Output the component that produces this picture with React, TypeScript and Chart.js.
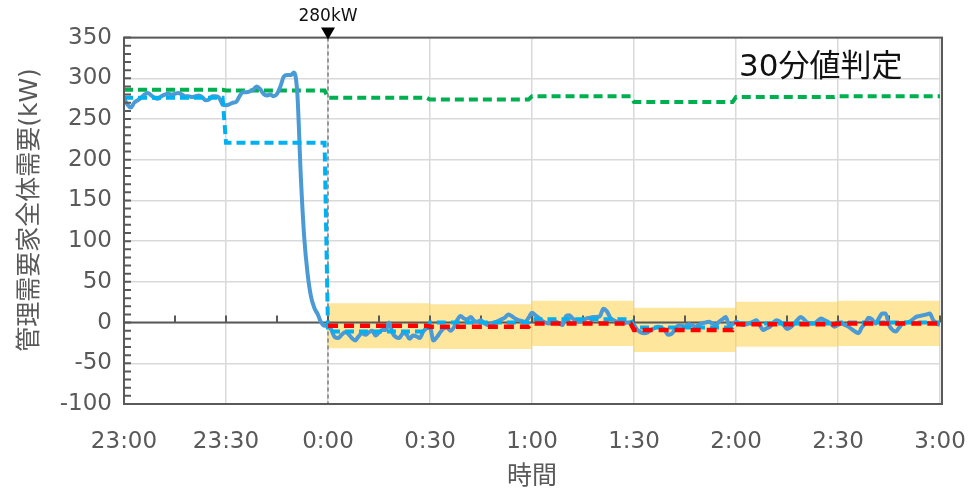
import React, { useEffect, useRef } from 'react';
import { Chart, registerables } from 'chart.js';

Chart.register(...registerables);

// Axis labels
const timeLabels = ['23:00', '23:30', '0:00', '0:30', '1:00', '1:30', '2:00', '2:30', '3:00'];
const xTitle = '時間';
const yTitle = '管理需要家全体需要(kW)';
const panelLabel = '30分値判定';
const markerLabel = '280kW';
const markerMinute = 60; // 0:00, minutes after 23:00
const slotMinutes = 30;
const totalMinutes = 240;

// 1-minute total demand of managed customers, 23:00 → 3:00 (kW)
const demand = [
  275, 268, 264, 270, 273, 276, 280, 282, 279, 276,
  275, 278, 280, 281, 280, 281, 282, 280, 278, 278,
  277, 278, 279, 277, 273, 274, 278, 278, 276, 268,
  267, 268, 270, 271, 278, 283, 283, 284, 286, 290,
  287, 281, 279, 280, 278, 281, 290, 302, 304, 304,
  307, 280, 180, 105, 60, 32, 18, 10, 0, -4,
  -2, -9, -18, -19, -15, -12, -14, -19, -22, -17,
  -13, -15, -12, -10, -16, -12, -9, -9, 0, -13,
  -18, -19, -13, -14, -20, -16, -17, -19, -11, -7,
  -6, -22, -18, -12, -7, -6, -10, -6, 3, 8,
  5, 4, 7, 2, 1, 3, -1, -3, -1, 0,
  2, 4, 6, 10, 8, 5, 3, 2, 1, 6,
  12, 9, 6, 2, 0, -1, 0, 1, -1, -3,
  8, 9, 5, 3, 1, 3, 5, 6, 7, 7,
  8, 17, 14, 6, 3, 1, 0, -1, 0, 0,
  -3, -9, -12, -13, -12, -9, -7, -5, -6, -9,
  -15, -14, -9, -4, -4, -5, -2, -3, -5, -3,
  -1, 0, 1, -1, -3, 1, 4, 7, -3, -2,
  1, -1, -3, -2, -1, 1, 3, -3, -9, -7,
  -5, 0, 3, 1, -3, -8, -6, -2, 3, 7,
  4, 0, -1, -1, 2, 5, 3, 1, -2, -5,
  -3, -1, -3, -5, -8, -11, -13, -6, -1, 6,
  4, -1, 5, 11, 11, -3, -9, -11, -6, -1,
  0, 1, 4, 7, 8, 9, 10, 11, 3, -1,
  -3,
];

// Per 30-minute slot values (23:00, 23:30, 0:00, ... 2:30)
const slotAverage = [276, 221, -11, 0, 4, -6, -1, 0];
const baseline = [286, 285, 276, 274, 278, 271, 277, 278];
const target: (number | null)[] = [null, null, -4, -5, -1, -9, -2, -1];
const tolerance: (number | null)[] = [null, null, 27.6, 27.4, 27.8, 27.1, 27.7, 27.8];

const FONT_LATIN = "'DejaVu Sans', 'Noto Sans CJK JP', sans-serif";
const AXIS_COLOR = '#595959';

// Expand slot values into a 1-minute series so that steps are drawn like the demand line
function perMinute(slots: (number | null)[]) {
  const out: { x: number; y: number | null }[] = [];
  for (let m = 0; m <= totalMinutes; m++) {
    const s = Math.min(Math.floor(m / slotMinutes), slots.length - 1);
    out.push({ x: m, y: slots[s] });
  }
  return out;
}

// Step outline of the tolerance band around the target
function bandEdge(sign: number) {
  const pts: { x: number; y: number }[] = [];
  let last = 0;
  target.forEach((t, i) => {
    const tol = tolerance[i];
    if (t === null || tol === null) return;
    last = t + sign * tol;
    pts.push({ x: i * slotMinutes, y: last });
  });
  pts.push({ x: totalMinutes, y: last });
  return pts;
}

const decorations = {
  id: 'decorations',
  beforeDatasetsDraw(chart: any) {
    const { ctx, chartArea: a, scales } = chart;
    const x = scales.x;
    const y = scales.y;
    ctx.save();
    // dashed marker line at 0:00
    const xm = x.getPixelForValue(markerMinute);
    ctx.strokeStyle = '#7f7f7f';
    ctx.lineWidth = 1.5;
    ctx.setLineDash([4, 3]);
    ctx.beginPath();
    ctx.moveTo(xm, a.top);
    ctx.lineTo(xm, a.bottom);
    ctx.stroke();
    ctx.setLineDash([]);
    // zero axis with 15-minute tick marks
    const y0 = y.getPixelForValue(0);
    ctx.strokeStyle = AXIS_COLOR;
    ctx.lineWidth = 2;
    ctx.beginPath();
    ctx.moveTo(a.left, y0);
    ctx.lineTo(a.right, y0);
    for (let m = 0; m <= totalMinutes; m += 15) {
      const px = x.getPixelForValue(m);
      ctx.moveTo(px, y0);
      ctx.lineTo(px, y0 - 7);
    }
    ctx.stroke();
    ctx.restore();
  },
  afterDatasetsDraw(chart: any) {
    const { ctx, chartArea: a, scales } = chart;
    const x = scales.x;
    const y = scales.y;
    ctx.save();
    // plot frame
    ctx.strokeStyle = AXIS_COLOR;
    ctx.lineWidth = 2;
    ctx.strokeRect(a.left, a.top, a.right - a.left + 2, a.bottom - a.top);
    // minor ticks on the value axis, every 10 kW
    ctx.beginPath();
    for (let v = y.min; v <= y.max; v += 10) {
      const py = y.getPixelForValue(v);
      ctx.moveTo(a.left, py);
      ctx.lineTo(a.left + 7, py);
    }
    ctx.stroke();
    // marker triangle and label
    const xm = x.getPixelForValue(markerMinute);
    ctx.fillStyle = '#000';
    ctx.beginPath();
    ctx.moveTo(xm - 7, a.top - 10);
    ctx.lineTo(xm + 7, a.top - 10);
    ctx.lineTo(xm, a.top + 2);
    ctx.closePath();
    ctx.fill();
    ctx.font = `17px ${FONT_LATIN}`;
    ctx.textAlign = 'center';
    ctx.textBaseline = 'middle';
    ctx.fillStyle = '#111';
    ctx.fillText(markerLabel, xm, 17);
    // panel label
    ctx.font = `31px ${FONT_LATIN}`;
    ctx.textAlign = 'left';
    ctx.fillStyle = '#111';
    ctx.fillText(panelLabel, 739, 68);
    // value-axis title
    ctx.translate(30, 210);
    ctx.rotate(-Math.PI / 2);
    ctx.font = `25px ${FONT_LATIN}`;
    ctx.textAlign = 'center';
    ctx.fillStyle = AXIS_COLOR;
    ctx.fillText(yTitle, 0, 0);
    ctx.restore();
  },
};

export default function App() {
  const ref = useRef<HTMLCanvasElement | null>(null);

  useEffect(() => {
    if (!ref.current) return;
    const chart = new Chart(ref.current, {
      type: 'line',
      data: {
        datasets: [
          {
            label: 'target',
            data: perMinute(target),
            borderColor: '#ff0000',
            borderWidth: 4.5,
            borderDash: [10, 6],
            pointRadius: 0,
            fill: false,
          },
          {
            label: '30min average',
            data: perMinute(slotAverage),
            borderColor: '#00b0f0',
            borderWidth: 4,
            borderDash: [9, 5],
            pointRadius: 0,
            fill: false,
          },
          {
            label: 'demand',
            data: demand.map((v, i) => ({ x: i, y: v })),
            borderColor: '#4a9ad5',
            borderWidth: 4,
            pointRadius: 0,
            cubicInterpolationMode: 'monotone',
            fill: false,
          },
          {
            label: 'baseline',
            data: perMinute(baseline),
            borderColor: '#00b050',
            borderWidth: 4,
            borderDash: [9, 5],
            pointRadius: 0,
            fill: false,
          },
          {
            label: 'band upper',
            data: bandEdge(1),
            borderColor: 'transparent',
            borderWidth: 0,
            pointRadius: 0,
            stepped: true,
            backgroundColor: 'rgba(255, 210, 77, 0.55)',
            fill: '+1',
          },
          {
            label: 'band lower',
            data: bandEdge(-1),
            borderColor: 'transparent',
            borderWidth: 0,
            pointRadius: 0,
            stepped: true,
            fill: false,
          },
        ],
      },
      options: {
        animation: false,
        responsive: true,
        maintainAspectRatio: false,
        devicePixelRatio: 1,
        layout: { padding: { top: 37.6, right: 29, left: 0, bottom: 0 } },
        plugins: {
          legend: { display: false },
          tooltip: { enabled: false },
          filler: { drawTime: 'beforeDatasetsDraw', propagate: false },
        },
        scales: {
          x: {
            type: 'linear',
            min: 0,
            max: totalMinutes,
            afterFit: (s: any) => {
              s.height = 88;
              s.paddingLeft = 0;
              s.paddingRight = 0;
            },
            grid: { color: '#d9d9d9', lineWidth: 1.5, drawTicks: false },
            border: { display: false },
            ticks: {
              stepSize: slotMinutes,
              autoSkip: false,
              maxRotation: 0,
              padding: 24,
              color: AXIS_COLOR,
              font: { family: FONT_LATIN, size: 23 },
              callback: (v: any) => timeLabels[Math.round(Number(v) / slotMinutes)] ?? '',
            },
            title: {
              display: true,
              text: xTitle,
              color: AXIS_COLOR,
              padding: { top: 0, bottom: 0 },
              font: { family: FONT_LATIN, size: 25 },
            },
          },
          y: {
            min: -100,
            max: 350,
            afterFit: (s: any) => { s.width = 124; },
            grid: { color: '#d9d9d9', lineWidth: 1.5, drawTicks: false },
            border: { display: false },
            ticks: {
              stepSize: 50,
              padding: 12,
              color: AXIS_COLOR,
              font: { family: FONT_LATIN, size: 23 },
            },
          },
        },
      },
      plugins: [decorations],
    } as any);
    return () => chart.destroy();
  }, []);

  return (
    <div style={{ position: 'fixed', left: 0, top: 0, width: 969, height: 492, background: '#fff' }}>
      <canvas ref={ref} />
    </div>
  );
}
